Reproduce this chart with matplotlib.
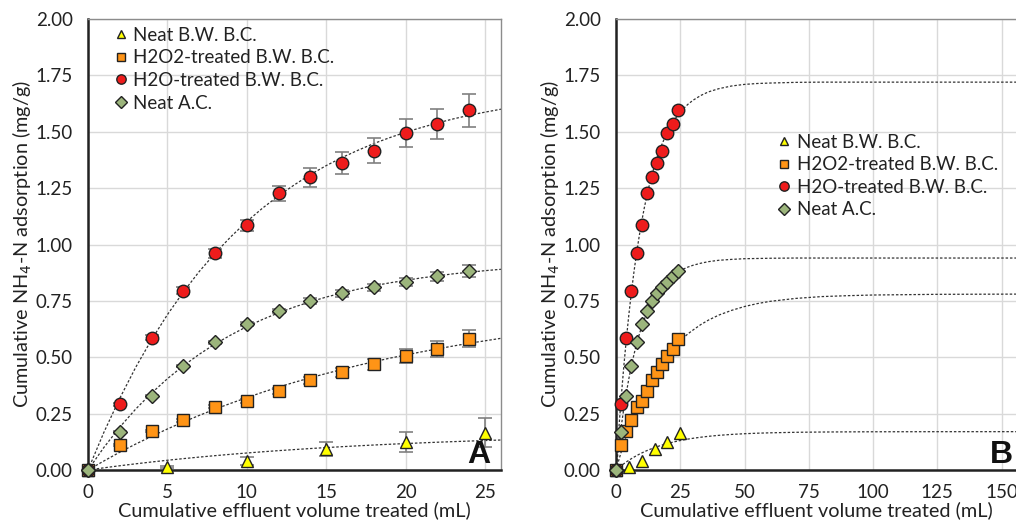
import matplotlib
matplotlib.use("Agg")
import matplotlib.pyplot as plt

# ---------------- data ----------------
labels = ["Neat B.W. B.C.", "H2O2-treated B.W. B.C.", "H2O-treated B.W. B.C.", "Neat A.C."]

x_bw = [0, 5, 10, 15, 20, 25]
y_bw = [0.0, 0.012, 0.040, 0.092, 0.124, 0.166]
e_bw = [0.0, 0.005, 0.016, 0.030, 0.044, 0.063]

x_2 = [0, 2, 4, 6, 8, 10, 12, 14, 16, 18, 20, 22, 24]
y_h2o2 = [0.0, 0.111, 0.173, 0.220, 0.281, 0.305, 0.350, 0.398, 0.433, 0.469, 0.507, 0.535, 0.582]
e_h2o2 = [0.0, 0.004, 0.005, 0.006, 0.008, 0.010, 0.012, 0.015, 0.020, 0.025, 0.031, 0.035, 0.038]

y_h2o = [0.0, 0.291, 0.587, 0.795, 0.962, 1.085, 1.227, 1.298, 1.363, 1.416, 1.496, 1.534, 1.595]
e_h2o = [0.0, 0.005, 0.010, 0.015, 0.020, 0.025, 0.034, 0.041, 0.049, 0.056, 0.062, 0.067, 0.072]

y_ac = [0.0, 0.170, 0.328, 0.461, 0.566, 0.647, 0.705, 0.749, 0.783, 0.810, 0.835, 0.860, 0.884]
e_ac = [0.0, 0.004, 0.005, 0.006, 0.007, 0.008, 0.010, 0.012, 0.014, 0.016, 0.018, 0.020, 0.026]

# dotted trend curves
x_curve = [0, 1, 2, 3, 4, 5, 6, 7, 8, 9, 10, 11, 12, 13, 14, 15, 16, 17, 18, 19, 20,
           21, 22, 23, 24, 25, 26, 28, 30, 33, 36, 40, 45, 50, 55, 60, 70, 80, 90,
           100, 125, 156]
c_h2o = [0.0, 0.167, 0.318, 0.455, 0.578, 0.689, 0.789, 0.880, 0.961, 1.035, 1.102,
         1.162, 1.216, 1.265, 1.310, 1.350, 1.386, 1.418, 1.448, 1.474, 1.498, 1.519,
         1.539, 1.557, 1.573, 1.587, 1.600, 1.622, 1.640, 1.661, 1.677, 1.691, 1.703,
         1.710, 1.714, 1.716, 1.719, 1.720, 1.720, 1.720, 1.720, 1.720]
c_ac = [0.0, 0.100, 0.190, 0.270, 0.341, 0.405, 0.462, 0.513, 0.559, 0.599, 0.636,
        0.668, 0.697, 0.723, 0.746, 0.767, 0.785, 0.802, 0.817, 0.830, 0.841, 0.852,
        0.861, 0.870, 0.877, 0.884, 0.890, 0.900, 0.908, 0.917, 0.924, 0.930, 0.934,
        0.937, 0.938, 0.939, 0.940, 0.940, 0.940, 0.940, 0.940, 0.940]
c_h2o2 = [0.0, 0.040, 0.079, 0.115, 0.149, 0.182, 0.213, 0.242, 0.270, 0.296, 0.321,
          0.345, 0.368, 0.389, 0.409, 0.428, 0.446, 0.464, 0.480, 0.496, 0.510, 0.524,
          0.537, 0.550, 0.562, 0.573, 0.584, 0.604, 0.621, 0.645, 0.665, 0.687, 0.708,
          0.725, 0.738, 0.748, 0.761, 0.769, 0.773, 0.776, 0.779, 0.780]
c_bw = [0.0, 0.0097, 0.0188, 0.0274, 0.0355, 0.0432, 0.0504, 0.0572, 0.0636, 0.0697,
        0.0754, 0.0808, 0.0859, 0.0906, 0.0952, 0.0994, 0.1034, 0.1072, 0.1108, 0.1142,
        0.1173, 0.1203, 0.1232, 0.1258, 0.1283, 0.1307, 0.1330, 0.1371, 0.1407, 0.1454,
        0.1494, 0.1537, 0.1578, 0.1609, 0.1632, 0.1649, 0.1672, 0.1684, 0.1691, 0.1695,
        0.1699, 0.1700]

yticks = [0.00, 0.25, 0.50, 0.75, 1.00, 1.25, 1.50, 1.75, 2.00]
xticks_a = [0, 5, 10, 15, 20, 25]
xticks_b = [0, 25, 50, 75, 100, 125, 150]

# ---------------- style ----------------
plt.rcParams['font.family'] = ['Lato', 'DejaVu Sans']

fig = plt.figure(figsize=(10.16, 5.22), dpi=100)
axA = fig.add_axes([88/1016, 1-470/522, (501-88)/1016, (470-19)/522])
axB = fig.add_axes([616/1016, 1-470/522, (1016-616)/1016, (470-19)/522])

series = [
    (x_bw, y_bw, e_bw, c_bw, '^', '#FFFF00', 8),
    (x_2, y_h2o2, e_h2o2, c_h2o2, 's', '#FF9416', 8.5),
    (x_2, y_h2o, e_h2o, c_h2o, 'o', '#EE1C1C', 9),
    (x_2, y_ac, e_ac, c_ac, 'D', '#9CB57C', 7.5),
]

for ax, xlim, xt, errs in [(axA, 26.0, xticks_a, True), (axB, 155.6, xticks_b, False)]:
    for (xs, ys, es, cs, mk, col, ms), lab in zip(series, labels):
        ax.plot(x_curve, cs, linestyle=(0, (2, 1.5)), color='#333333', lw=0.9, zorder=2)
        if errs:
            ax.errorbar(xs, ys, yerr=es, fmt='none', ecolor='#808080', elinewidth=1.2,
                        capsize=5, capthick=1.2, zorder=3)
        ax.plot(xs, ys, linestyle='none', marker=mk, markersize=ms, markerfacecolor=col,
                markeredgecolor='#222222', markeredgewidth=1.0, label=lab, zorder=4,
                clip_on=False)
    ax.set_xlim(0, xlim)
    ax.set_ylim(0, 2.0)
    ax.set_xticks(xt)
    ax.set_xticklabels([str(v) for v in xt])
    ax.set_yticks(yticks)
    ax.set_yticklabels([f"{v:.2f}" for v in yticks])
    ax.grid(True, color='#D9D9D9', lw=1.0, zorder=0)
    ax.set_axisbelow(True)
    ax.tick_params(axis='x', length=0, labelsize=13.5, colors='#222222', pad=10)
    ax.tick_params(axis='y', length=0, labelsize=13.5, colors='#222222', pad=11)
    for s in ['left', 'bottom']:
        ax.spines[s].set_color('#222222')
        ax.spines[s].set_linewidth(1.8)
    for s in ['top', 'right']:
        ax.spines[s].set_color('#8C8C8C')
        ax.spines[s].set_linewidth(1.0)
    ax.set_xlabel("Cumulative effluent volume treated (mL)", fontsize=14.3, color='#222222',
                  labelpad=0)
    ax.set_ylabel("Cumulative NH$_4$-N adsorption (mg/g)", fontsize=14.3, color='#222222',
                  labelpad=1)

axB.spines['right'].set_visible(False)

legA = axA.legend(loc='upper left', bbox_to_anchor=(0.02, 1.012), frameon=False, fontsize=13.5,
                  handletextpad=0.05, labelspacing=0.3, borderaxespad=0.3, handlelength=1.2,
                  markerscale=0.75)
legB = axB.legend(loc='upper left', bbox_to_anchor=(0.36, 0.775), frameon=False, fontsize=13.5,
                  handletextpad=0.05, labelspacing=0.3, borderaxespad=0.3, handlelength=1.2,
                  markerscale=0.75)
for leg in (legA, legB):
    for t in leg.get_texts():
        t.set_color('#222222')

axA.text(0.975, 0.0, "A", transform=axA.transAxes, ha='right', va='bottom',
         fontsize=23, fontweight='bold', color='#111111', family='Liberation Sans')
axB.text(0.993, 0.0, "B", transform=axB.transAxes, ha='right', va='bottom',
         fontsize=23, fontweight='bold', color='#111111', family='Liberation Sans')

fig.savefig("out.png", dpi=100)
